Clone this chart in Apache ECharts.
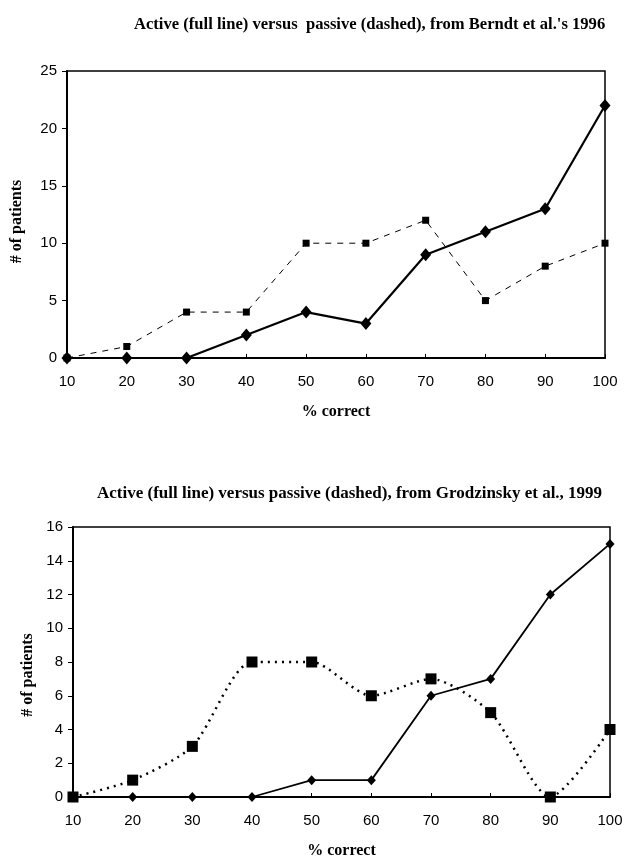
<!DOCTYPE html>
<html><head><meta charset="utf-8">
<script src="https://cdn.jsdelivr.net/npm/echarts@6/dist/echarts.min.js"></script>
<style>html,body{margin:0;padding:0;background:#fff}#c{width:627px;height:860px}</style>
</head><body><div id="c"></div>
<script>
const categories = ['10','20','30','40','50','60','70','80','90','100'];
const berndtActive = [0,0,0,2,4,3,9,11,13,22];
const berndtPassive = [0,1,4,4,10,10,12,5,8,10];
const grodActive = [0,0,0,0,1,1,6,7,12,15];
const grodPassive = [0,1,3,8,8,6,7,5,0,4];
const titles = ["Active (full line) versus  passive (dashed), from Berndt et al.'s 1996",
                "Active (full line) versus passive (dashed), from Grodzinsky et al., 1999"];

const chart = echarts.init(document.getElementById('c'));
const serif = '"Liberation Serif","Times New Roman",serif';
const sans = '"Liberation Sans",Arial,sans-serif';
function xAx(i){return {type:'category',gridIndex:i,data:categories,boundaryGap:false,
  name:'% correct',nameLocation:'middle',nameGap:46,
  nameTextStyle:{fontFamily:serif,fontWeight:'bold',fontSize:16,color:'#000'},
  axisLine:{lineStyle:{color:'#000',width:2}},
  axisTick:{show:true,inside:true,length:4,alignWithLabel:true,lineStyle:{color:'#000'}},
  axisLabel:{fontFamily:sans,fontSize:15,color:'#000',margin:16},
  splitLine:{show:false}};}
function yAx(i,max,iv,gap,pad){return {type:'value',gridIndex:i,min:0,max:max,interval:iv,
  name:'# of patients',nameLocation:'middle',nameGap:gap,nameRotate:90,
  nameTextStyle:{fontFamily:serif,fontWeight:'bold',fontSize:16,color:'#000',padding:[0,pad,0,0]},
  axisLine:{show:true,lineStyle:{color:'#000',width:2}},
  axisTick:{show:true,length:5,lineStyle:{color:'#000'}},
  axisLabel:{fontFamily:sans,fontSize:15,color:'#000',margin:10},
  splitLine:{show:false}};}
chart.setOption({
  animation:false,
  backgroundColor:'#fff',
  title:[
    {text:titles[0],left:129,top:11,textStyle:{fontFamily:serif,fontWeight:'bold',fontSize:16.6,color:'#000'}},
    {text:titles[1],left:92,top:480,textStyle:{fontFamily:serif,fontWeight:'bold',fontSize:17,color:'#000'}}
  ],
  grid:[
    {left:67,right:22,top:71,height:287,show:true,borderColor:'#000',borderWidth:1.5,containLabel:false},
    {left:73,right:17,top:527,height:271,show:true,borderColor:'#000',borderWidth:1.5,containLabel:false}
  ],
  xAxis:[xAx(0),xAx(1)],
  yAxis:[yAx(0,25,5,42,14),yAx(1,16,2,37,26)],
  series:[
    {type:'line',xAxisIndex:0,yAxisIndex:0,data:berndtPassive,symbol:'rect',symbolSize:7,
     lineStyle:{color:'#000',width:1,type:[6,6]},itemStyle:{color:'#000'}},
    {type:'line',xAxisIndex:0,yAxisIndex:0,data:berndtActive,symbol:'diamond',symbolSize:[11,13],
     lineStyle:{color:'#000',width:2.2},itemStyle:{color:'#000'}},
    {type:'line',xAxisIndex:1,yAxisIndex:1,data:grodPassive,symbol:'rect',symbolSize:11,smooth:0.25,
     lineStyle:{color:'#000',width:2.5,type:[2,5]},itemStyle:{color:'#000'}},
    {type:'line',xAxisIndex:1,yAxisIndex:1,data:grodActive,symbol:'diamond',symbolSize:[9,10],
     lineStyle:{color:'#000',width:1.8},itemStyle:{color:'#000'}}
  ]
});
</script></body></html>
